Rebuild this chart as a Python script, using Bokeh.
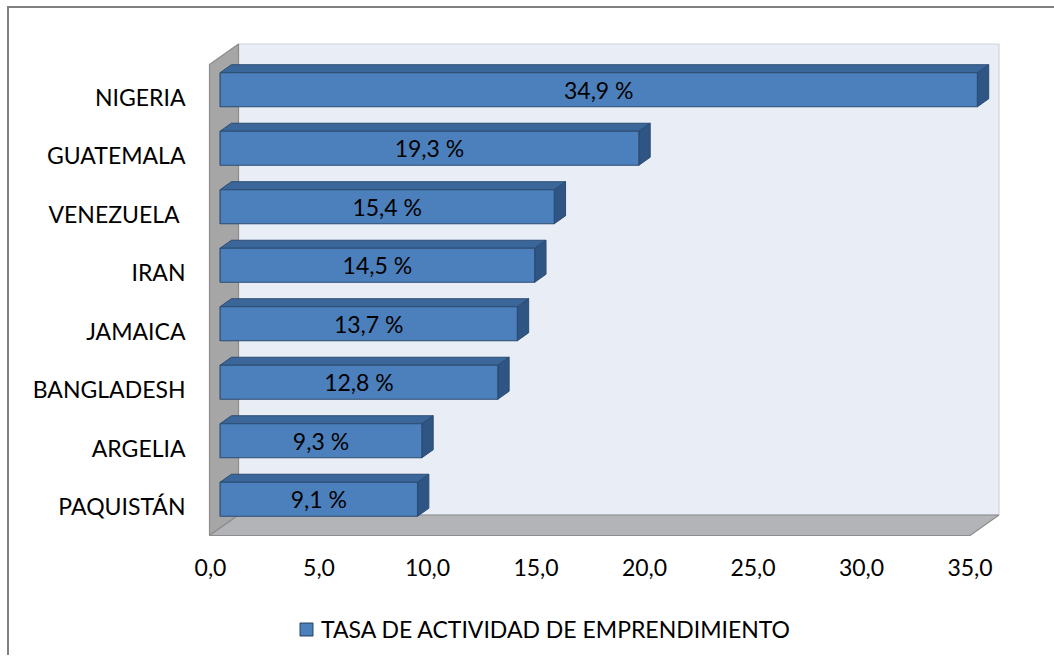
from bokeh.plotting import figure
from bokeh.models import Range1d, FixedTicker, Legend, LegendItem, ColumnDataSource
from bokeh.embed import file_html
from bokeh.resources import INLINE
from bokeh.core.properties import value

# ---------------- data ----------------
countries = ["NIGERIA", "GUATEMALA", "VENEZUELA ", "IRAN", "JAMAICA",
             "BANGLADESH", "ARGELIA", "PAQUISTÁN"]
rates = [34.9, 19.3, 15.4, 14.5, 13.7, 12.8, 9.3, 9.1]
x_ticks = [0, 5, 10, 15, 20, 25, 30, 35]
x_tick_labels = ["0,0", "5,0", "10,0", "15,0", "20,0", "25,0", "30,0", "35,0"]
series_name = "TASA DE ACTIVIDAD DE EMPRENDIMIENTO"

# ---------------- layout constants ----------------
PX = 21.7      # pixels per x unit
PY = 58.5      # pixels per category slot
n = len(countries)
x_max = x_ticks[-1]
DX, DY = 29 / PX, 20.5 / PY          # full depth vector of the 3D box
F1, F2 = 0.33, 0.72                   # bar front / back depth fractions
H = 17 / PY                           # bar half height
X0 = -1 / PX                          # front plane of left wall
Y_TOP = (n - 1) + 32 / PY
Y_BOT = -29.5 / PY
AXIS_Y = -34.5 / PY                   # where the value axis sits

FONT = "Lato"
FS = "23px"

p = figure(frame_width=822, frame_height=615, output_backend="svg", toolbar_location=None,
           x_range=Range1d(-22 / PX, 800 / PX),
           y_range=Range1d(-149.5 / PY, (n - 1) + 56 / PY),
           min_border_left=179, min_border_right=44,
           min_border_top=32, min_border_bottom=0,
           outline_line_color=None, background_fill_color="white",
           border_fill_color="white")
p.styles = {"margin-left": "7px", "margin-top": "6px",
            "border-top": "2px solid #808080", "border-left": "2px solid #808080"}
p.grid.visible = False

# ---------------- 3D box: back wall, left wall, floor ----------------
p.quad(left=[X0 + DX], right=[x_max + DX], bottom=[Y_BOT + DY], top=[Y_TOP + DY],
       fill_color="#e9edf5", line_color="#d2d4d8", line_width=1.2)
p.patch(x=[X0, X0 + DX, X0 + DX, X0], y=[Y_BOT, Y_BOT + DY, Y_TOP + DY, Y_TOP],
        fill_color="#a6a6a6", line_color="#8c8c8c", line_width=1.2)
p.patch(x=[X0, x_max, x_max + DX, X0 + DX], y=[Y_BOT, Y_BOT, Y_BOT + DY, Y_BOT + DY],
        fill_color="#b3b4b8", line_color="#8c8c8c", line_width=1.2)

# ---------------- bars ----------------
yc = [n - 1 - i for i in range(n)]
s1x, s1y = F1 * DX, F1 * DY
s2x, s2y = F2 * DX, F2 * DY

top_xs, top_ys, side_xs, side_ys = [], [], [], []
for v, y in zip(rates, yc):
    t1 = y + s1y + H
    b1 = y + s1y - H
    t2 = y + s2y + H
    b2 = y + s2y - H
    top_xs.append([s1x, v + s1x, v + s2x, s2x])
    top_ys.append([t1, t1, t2, t2])
    side_xs.append([v + s1x, v + s1x, v + s2x, v + s2x])
    side_ys.append([b1, t1, t2, b2])

p.patches(xs=top_xs, ys=top_ys, fill_color="#3b6699", line_color="#2b4c72", line_width=1)
p.patches(xs=side_xs, ys=side_ys, fill_color="#2f5584", line_color="#2b4c72", line_width=1)

src = ColumnDataSource(dict(
    left=[s1x] * n,
    right=[v + s1x for v in rates],
    bottom=[y + s1y - H for y in yc],
    top=[y + s1y + H for y in yc],
    lx=[v / 2 + s1x for v in rates],
    ly=[y + s1y for y in yc],
    lab=[f"{v:.1f}".replace(".", ",") + " %" for v in rates],
))
front = p.quad(left="left", right="right", bottom="bottom", top="top", source=src,
               fill_color="#4c80bd", line_color="#2b4c72", line_width=1.2)
p.text(x="lx", y="ly", text="lab", source=src, text_align="center",
       text_baseline="middle", text_font=value(FONT), text_font_size=FS,
       text_color="black")

# ---------------- axes ----------------
p.yaxis.ticker = FixedTicker(ticks=yc)
p.yaxis.major_label_overrides = {y: c for y, c in zip(yc, countries)}
p.xaxis.ticker = FixedTicker(ticks=x_ticks)
p.xaxis.major_label_overrides = {t: l for t, l in zip(x_ticks, x_tick_labels)}
p.xaxis.fixed_location = AXIS_Y
for ax in (p.xaxis, p.yaxis):
    ax.axis_line_color = None
    ax.major_tick_line_color = None
    ax.minor_tick_line_color = None
    ax.major_tick_out = 0
    ax.major_label_text_font = FONT
    ax.major_label_text_font_size = FS
    ax.major_label_text_color = "black"
p.yaxis.major_label_standoff = 3
p.xaxis.major_label_standoff = 18

# ---------------- legend (inside the frame, below the axis labels) ----------------
legend = Legend(items=[LegendItem(label=series_name, renderers=[front])],
                location=(110, 12), orientation="horizontal",
                glyph_width=16, glyph_height=16, label_standoff=7,
                padding=0, margin=0, spacing=0,
                label_text_font=FONT, label_text_font_size=FS,
                label_text_color="black",
                background_fill_alpha=0, border_line_color=None)
p.add_layout(legend, "center")

open("out.html", "w").write(file_html(p, INLINE))
